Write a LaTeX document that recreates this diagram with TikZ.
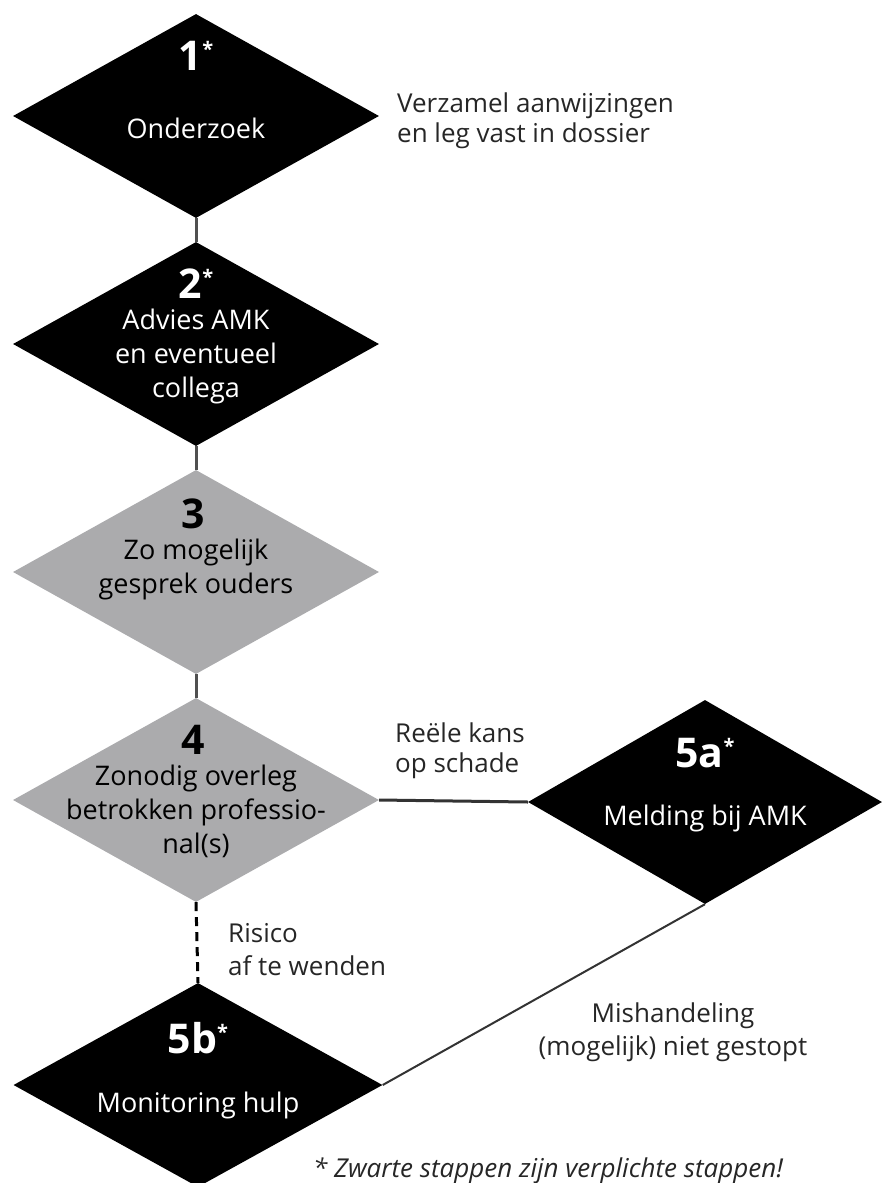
\documentclass[tikz,border=0pt]{standalone}
\usepackage{fontspec}
\setmainfont{Open Sans}
\usepackage{tikz}
\usetikzlibrary{shapes.geometric}

\definecolor{stepgray}{RGB}{171,171,173}
\definecolor{linegray}{RGB}{80,80,80}
\newcommand{\ster}{\raisebox{14pt}{\fontsize{20}{20}\selectfont\bfseries *}}

\begin{document}
\begin{tikzpicture}[x=1pt, y=-1pt,
      stepblack/.style={diamond, fill=black, minimum width=366, minimum height=204, inner sep=0},
      stepgrey/.style={diamond, fill=stepgray, minimum width=366, minimum height=204, inner sep=0},
      nummer/.style={anchor=base, font=\fontsize{41}{41}\selectfont\bfseries, inner sep=0},
      tekst/.style={anchor=base, align=center, font=\fontsize{27}{34}\selectfont, inner sep=0},
      opmerking/.style={anchor=base west, align=left, font=\fontsize{26}{30}\selectfont, inner sep=0, text=black!85},
      link/.style={line width=3, draw=linegray}]

      \useasboundingbox (0,0) rectangle (891,1183);

      \node[stepblack] (d1) at (196,116) {};
      \node[stepblack] (d2) at (196,344) {};
      \node[stepgrey] (d3) at (196,572) {};
      \node[stepgrey] (d4) at (196,800) {};
      \node[stepblack, minimum width=354] (d5a) at (705,802) {};
      \node[stepblack, minimum width=369] (d5b) at (198,1085) {};

      % Numbers
      \node[nummer, text=white] (n1) at (196,70) {1\ster};
      \node[nummer, text=white] (n2) at (196,298) {2\ster};
      \node[nummer] (n3) at (193,528) {3};
      \node[nummer] (n4) at (193,754) {4};
      \node[nummer, text=white] (n5a) at (705,767) {5a\ster};
      \node[nummer, text=white] (n5b) at (198,1053) {5b\ster};

      % Step texts (base = last line)
      \node[tekst, text=white] (t1) at (196,138) {Onderzoek};
      \node[tekst, text=white] (t2) at (196,397) {Advies AMK\\en eventueel\\collega};
      \node[tekst] (t3) at (196,593) {Zo mogelijk\\gesprek ouders};
      \node[tekst] (t4) at (196,853) {Zonodig overleg\\betrokken professio-\\nal(s)};
      \node[tekst, text=white] (t5a) at (705,825) {Melding bij AMK};
      \node[tekst, text=white] (t5b) at (198,1112) {Monitoring hulp};

      % Lines
      \draw[link] (d1.south) -- (d2.north);
      \draw[link] (d2.south) -- (d3.north);
      \draw[link] (d3.south) -- (d4.north);
      \draw[link, draw=black!80] (d4.east) -- (d5a.west);
      \draw[line width=3, dash pattern=on 9 off 6] (d4.south) -- (d5b.north);
      \draw[line width=2, draw=black!80] (d5a.south) -- (d5b.east);

      % Annotations
      \node[opmerking] (a1) at (397,142) {Verzamel aanwijzingen\\en leg vast in dossier};
      \node[opmerking] (a2) at (395,772) {Reële kans\\op schade};
      \node[opmerking, font=\fontsize{26}{33}\selectfont] (a3) at (228,975) {Risico\\af te wenden};
      \node[opmerking, anchor=base, align=center, font=\fontsize{26}{33}\selectfont] (a4) at (673,1055) {Mishandeling\\(mogelijk) niet gestopt};
      \node[opmerking, font=\fontsize{26}{30}\selectfont\itshape] (a5) at (313,1177) {* Zwarte stappen zijn verplichte stappen!};
    \end{tikzpicture}
\end{document}
